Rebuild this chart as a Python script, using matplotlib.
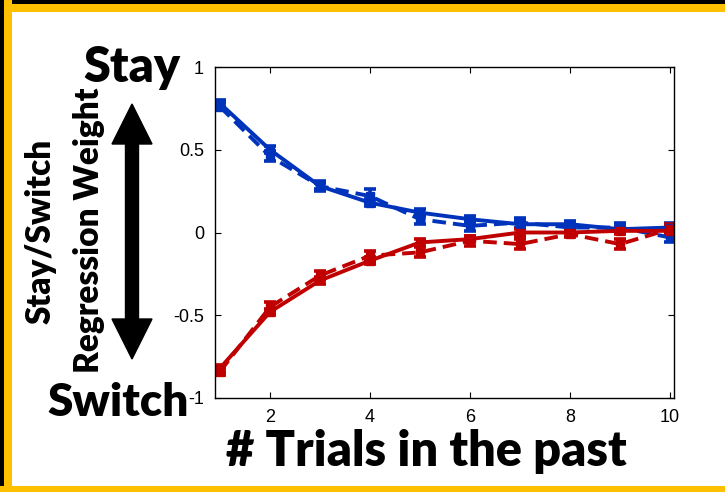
import numpy as np
import matplotlib
matplotlib.use('Agg')
import matplotlib.pyplot as plt
from matplotlib.patches import Rectangle, FancyArrow
from matplotlib.transforms import Affine2D

# Regression weights by trial lag
trials = [1, 2, 3, 4, 5, 6, 7, 8, 9, 10]
stay_model = [0.78, 0.50, 0.28, 0.18, 0.12, 0.08, 0.05, 0.05, 0.02, 0.03]
stay_data = [0.76, 0.46, 0.28, 0.22, 0.08, 0.04, 0.06, 0.03, 0.03, -0.03]
switch_model = [-0.82, -0.48, -0.29, -0.17, -0.06, -0.04, 0.0, 0.0, 0.01, 0.01]
switch_data = [-0.84, -0.45, -0.26, -0.14, -0.12, -0.05, -0.07, -0.01, -0.07, 0.02]
stay_model_err = [0.02, 0.02, 0.02, 0.02, 0.02, 0.02, 0.02, 0.02, 0.02, 0.03]
stay_data_err = [0.02, 0.03, 0.03, 0.04, 0.03, 0.03, 0.03, 0.02, 0.03, 0.03]
switch_model_err = [0.02, 0.02, 0.02, 0.02, 0.02, 0.02, 0.02, 0.02, 0.02, 0.03]
switch_data_err = [0.02, 0.03, 0.03, 0.03, 0.03, 0.03, 0.03, 0.02, 0.03, 0.03]

xticks = [2, 4, 6, 8, 10]
yticks = [-1, -0.5, 0, 0.5, 1]
yticklabels = ['-1', '-0.5', '0', '0.5', '1']

BLUE = '#0033bb'
RED = '#c00000'
GOLD = '#ffc000'
W, H = 725, 492

fig = plt.figure(figsize=(W / 100, H / 100), dpi=100, facecolor='white')
# pixel coordinates, origin at top-left
px = Affine2D().scale(1, -1).translate(0, H).scale(1 / W, 1 / H) + fig.transFigure

ax = fig.add_axes([215 / W, (H - 398) / H, 459 / W, 331 / H])

series = [
    (stay_model, stay_model_err, BLUE, '-'),
    (stay_data, stay_data_err, BLUE, '--'),
    (switch_model, switch_model_err, RED, '-'),
    (switch_data, switch_data_err, RED, '--'),
]
for vals, err, col, ls in series:
    line, caps, bars = ax.errorbar(trials, vals, yerr=err, color=col,
                                   linewidth=2.8, marker='s', markersize=6,
                                   capsize=4.5, elinewidth=2.6, capthick=2.6)
    if ls == '--':
        line.set_dashes((3.5, 1.8))

ax.set_xlim(0.9, 10.08)
ax.set_ylim(-1, 1)
ax.set_xticks(xticks)
ax.set_yticks(yticks)
ax.set_yticklabels(yticklabels)
ax.tick_params(direction='in', length=4, width=0.8, top=True, right=True,
               labelsize=13, pad=8)
for lab in ax.get_xticklabels() + ax.get_yticklabels():
    lab.set_fontfamily('Liberation Sans')
for sp in ax.spines.values():
    sp.set_linewidth(1.0)

bold = dict(family='Lato', fontweight='heavy', color='black', transform=px)
fig.text(132, 67, 'Stay', fontsize=35, ha='center', va='center', **bold)
fig.text(118, 402, 'Switch', fontsize=33, ha='center', va='center', zorder=5, **bold)
fig.text(426, 452, '# Trials in the past', fontsize=35, ha='center', va='center', **bold)
fig.text(41, 231, 'Stay/Switch', fontsize=24, rotation=90, ha='center', va='center', **bold)
fig.text(89, 230, 'Regression Weight', fontsize=24, rotation=90, ha='center', va='center', **bold)

# double-headed arrow between Stay and Switch
for y0, dy in [(232, -128), (232, 127)]:
    fig.patches.append(FancyArrow(132, y0, 0, dy, width=13, head_width=40,
                                  head_length=40, length_includes_head=True,
                                  color='black', transform=px))

# slide frame
for x, y, w, h, c in [(0, 0, W, 12, GOLD), (0, 0, W, 4, 'black'),
                      (0, 0, 12, H, GOLD), (0, 0, 4, H - 6, 'black'),
                      (0, H - 6, W, 6, GOLD)]:
    fig.patches.append(Rectangle((x, y), w, h, facecolor=c, edgecolor='none',
                                 transform=px))

fig.savefig('out.png', dpi=100)
